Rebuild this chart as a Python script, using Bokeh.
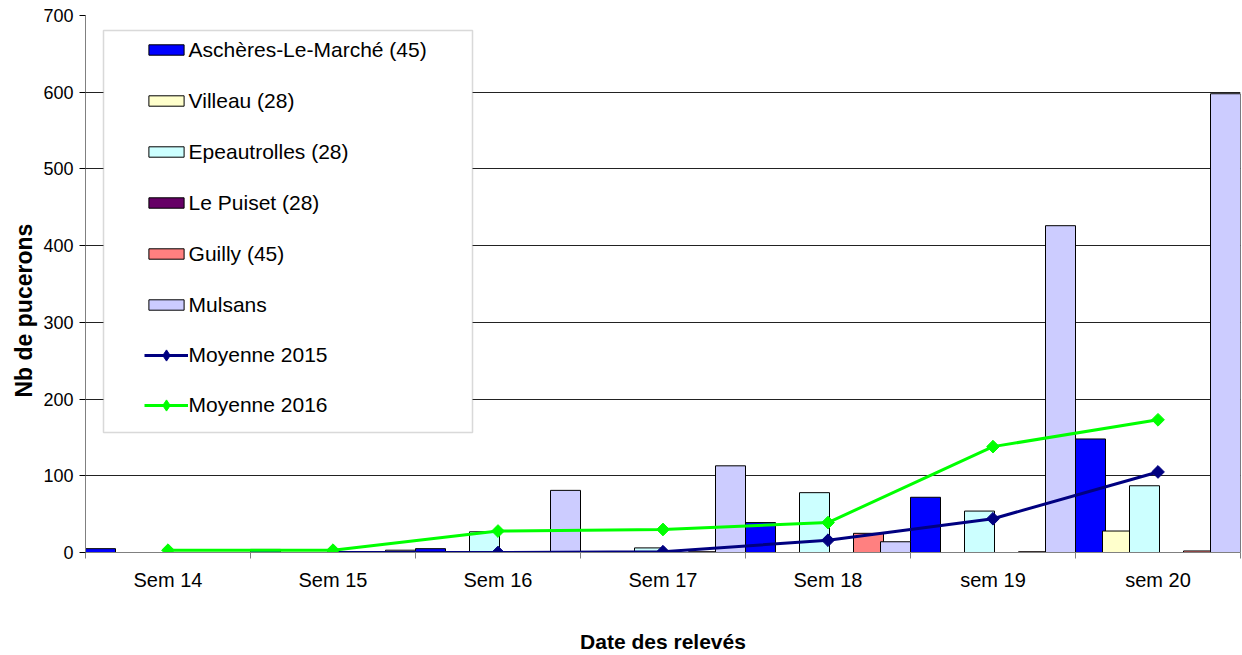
import numpy as np
from bokeh.plotting import figure
from bokeh.models import (Range1d, FixedTicker, Legend, LegendItem, BoxAnnotation, Title)
from bokeh.embed import file_html
from bokeh.resources import INLINE

# ---- data ----
categories = ["Sem 14", "Sem 15", "Sem 16", "Sem 17", "Sem 18", "sem 19", "sem 20"]
aschères = [5, 4, 5, 0, 39, 72, 148]
villeau = [0, 0, 0, 0, 0, 0, 28]
epeautrolles = [0, 0, 27, 6, 78, 54, 87]
le_puiset = [0, 0, 0, 0, 0, 0, 0]
guilly = [0, 0, 0, 1, 25, 1, 2]
mulsans = [0, 3, 81, 113, 14, 426, 598]
moyenne_2015 = [np.nan, 0, 0, 1, 16, 44, 105]
moyenne_2016 = [3, 3, 28, 30, 39, 138, 173]

bar_series = [
    ("Aschères-Le-Marché (45)", aschères, "#0000FF"),
    ("Villeau (28)", villeau, "#FFFFCC"),
    ("Epeautrolles (28)", epeautrolles, "#CCFFFF"),
    ("Le Puiset (28)", le_puiset, "#660066"),
    ("Guilly (45)", guilly, "#FF8080"),
    ("Mulsans", mulsans, "#CCCCFF"),
]
line_series = [
    ("Moyenne 2015", moyenne_2015, "#000080"),
    ("Moyenne 2016", moyenne_2016, "#00FF00"),
]

FONT = "Liberation Sans"
n = len(categories)
idx = np.arange(n)

p = figure(width=1242, height=655, output_backend="svg", toolbar_location=None,
           x_range=Range1d(-0.5, n - 0.5), y_range=Range1d(0, 700),
           min_border_left=85, min_border_right=2, min_border_top=15, min_border_bottom=103)
p.outline_line_color = None
p.background_fill_color = "white"

bar_items = []
slot_step = 27 / 165
bar_w = 30 / 165
for j, (name, vals, col) in enumerate(bar_series):
    v = np.array(vals, dtype=float)
    v = np.where(v > 0, v, np.nan)
    x = idx - 0.5 + j * slot_step + bar_w / 2
    r = p.vbar(x=x, top=v, bottom=0, width=bar_w, fill_color=col,
               line_color="black", line_width=1)
    bar_items.append(LegendItem(label=name, renderers=[r]))

line_items = []
for name, vals, col in line_series:
    lr = p.line(x=idx, y=vals, line_color=col, line_width=3)
    p.scatter(x=idx, y=vals, marker="square", angle=np.pi / 4, size=9,
              fill_color=col, line_color=col)
    # legend-only marker renderer (holds no visible point)
    mr = p.scatter(x=[np.nan], y=[np.nan], marker="diamond", size=10,
                   fill_color=col, line_color=col)
    line_items.append(LegendItem(label=name, renderers=[lr, mr]))

# axes
p.yaxis.ticker = FixedTicker(ticks=list(range(0, 701, 100)))
p.ygrid.ticker = FixedTicker(ticks=list(range(100, 701, 100)))
p.ygrid.grid_line_color = "#222222"
p.ygrid.grid_line_width = 1
p.xgrid.visible = False

p.yaxis.axis_line_color = "#808080"
p.yaxis.major_tick_line_color = "black"
p.yaxis.major_tick_out = 6
p.yaxis.major_tick_in = 0
p.yaxis.minor_tick_line_color = None
p.yaxis.major_label_standoff = 6
p.yaxis.major_label_text_font = FONT
p.yaxis.major_label_text_font_size = "18px"
p.yaxis.major_label_text_color = "black"

p.xaxis.ticker = FixedTicker(ticks=list(idx), minor_ticks=list(np.arange(n + 1) - 0.5))
p.xaxis.major_label_overrides = {int(i): c for i, c in zip(idx, categories)}
p.xaxis.axis_line_color = "#808080"
p.xaxis.major_tick_line_color = None
p.xaxis.major_tick_out = 0
p.xaxis.major_tick_in = 0
p.xaxis.minor_tick_line_color = "#808080"
p.xaxis.minor_tick_out = 6
p.xaxis.minor_tick_in = 0
p.xaxis.major_label_standoff = 10
p.xaxis.major_label_text_font = FONT
p.xaxis.major_label_text_font_size = "20px"
p.xaxis.major_label_text_color = "black"
p.xaxis.axis_label = "Date des relevés"
p.xaxis.axis_label_text_font = FONT
p.xaxis.axis_label_text_font_style = "bold"
p.xaxis.axis_label_text_font_size = "21px"
p.xaxis.axis_label_text_color = "black"
p.xaxis.axis_label_standoff = 36

# y-axis title, placed like the original (slightly below the frame centre)
ytitle = Title(text="Nb de pucerons", align="left", offset=155, standoff=8,
               text_font=FONT, text_font_style="bold", text_font_size="23px",
               text_color="black")
p.add_layout(ytitle, "left")

# legend frame
box = BoxAnnotation(left=103, right=472, top=30, bottom=432,
                    left_units="canvas", right_units="canvas",
                    top_units="canvas", bottom_units="canvas",
                    fill_color="white", fill_alpha=1.0,
                    line_color="#808080", line_width=1.5)
p.add_layout(box)

common = dict(padding=0, margin=0, glyph_width=44, label_standoff=1,
              label_text_font=FONT, label_text_font_size="21px",
              label_text_color="black", border_line_alpha=0, background_fill_alpha=0)
legend1 = Legend(items=bar_items, location=(58.6, 235.5), spacing=27,
                 label_height=23, glyph_height=13, **common)
legend2 = Legend(items=line_items, location=(58.6, 133), spacing=22,
                 label_height=28, glyph_height=28, **common)
p.add_layout(legend1)
p.add_layout(legend2)

open("out.html", "w").write(file_html(p, INLINE))
